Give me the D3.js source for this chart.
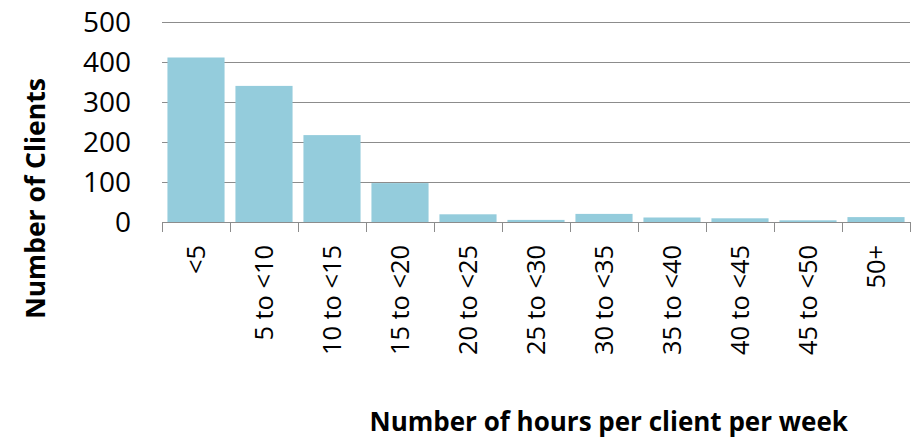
<!DOCTYPE html>
<html>
<head>
<meta charset="utf-8">
<script src="https://cdn.jsdelivr.net/npm/d3@7"></script>
<style>
  html, body { margin: 0; padding: 0; background: #fff; }
  svg { display: block; }
</style>
</head>
<body>
<svg id="chart" width="919" height="440"></svg>
<script>
// Hours-per-client histogram
const categories = ["<5", "5 to <10", "10 to <15", "15 to <20", "20 to <25", "25 to <30",
                    "30 to <35", "35 to <40", "40 to <45", "45 to <50", "50+"];
const clients = [412, 341, 218, 98, 20, 6, 21, 12, 10, 5, 13];
const yTicks = [0, 100, 200, 300, 400, 500];

const svg = d3.select("#chart");
const plotLeft = 162, plotRight = 910, plotTop = 22.3, plotBottom = 222.3;
const fontFamily = "Open Sans, sans-serif";

const x = d3.scaleBand()
  .domain(categories)
  .range([plotLeft, plotRight])
  .paddingInner(0.16)
  .paddingOuter(0.08);

const y = d3.scaleLinear().domain([0, 500]).range([plotBottom, plotTop]);

// horizontal gridlines
svg.append("g")
  .selectAll("line")
  .data(yTicks.filter(d => d > 0))
  .join("line")
  .attr("x1", plotLeft).attr("x2", plotRight)
  .attr("y1", d => Math.round(y(d)) + 0.5).attr("y2", d => Math.round(y(d)) + 0.5)
  .attr("stroke", "#8c8c8c").attr("stroke-width", 1);

// y tick labels
svg.append("g")
  .selectAll("text")
  .data(yTicks)
  .join("text")
  .attr("x", 131)
  .attr("y", d => y(d))
  .attr("dy", "0.36em")
  .attr("text-anchor", "end")
  .attr("font-family", fontFamily)
  .attr("font-size", 28)
  .attr("fill", "#000")
  .text(d => d);

// bars
svg.append("g")
  .selectAll("rect")
  .data(categories.map((c, i) => ({ c, v: clients[i] })))
  .join("rect")
  .attr("x", d => x(d.c))
  .attr("width", x.bandwidth())
  .attr("y", d => y(d.v))
  .attr("height", d => y(0) - y(d.v))
  .attr("fill", "#94ccdc");

// category axis: baseline and boundary ticks
const xAxisG = svg.append("g");
xAxisG.append("line")
  .attr("x1", plotLeft).attr("x2", plotRight)
  .attr("y1", Math.round(plotBottom) + 0.5).attr("y2", Math.round(plotBottom) + 0.5)
  .attr("stroke", "#8c8c8c");
const step = x.step();
xAxisG.selectAll("line.tick")
  .data(d3.range(categories.length + 1))
  .join("line")
  .attr("class", "tick")
  .attr("x1", i => Math.round(plotLeft + i * step) + 0.5)
  .attr("x2", i => Math.round(plotLeft + i * step) + 0.5)
  .attr("y1", Math.round(plotBottom))
  .attr("y2", Math.round(plotBottom) + 10)
  .attr("stroke", "#8c8c8c");

// rotated category labels
xAxisG.selectAll("text")
  .data(categories)
  .join("text")
  .attr("transform", d => `translate(${x(d) + x.bandwidth() / 2},245) rotate(-90)`)
  .attr("dy", "0.36em")
  .attr("text-anchor", "end")
  .attr("font-family", fontFamily)
  .attr("font-size", 25.4)
  .attr("fill", "#000")
  .text(d => d);

// axis titles
svg.append("text")
  .attr("transform", "translate(45,198.5) rotate(-90)")
  .attr("text-anchor", "middle")
  .attr("font-family", fontFamily)
  .attr("font-weight", "bold")
  .attr("font-size", 26.5)
  .attr("fill", "#000")
  .text("Number of Clients");

svg.append("text")
  .attr("x", 608.7)
  .attr("y", 431)
  .attr("text-anchor", "middle")
  .attr("font-family", fontFamily)
  .attr("font-weight", "bold")
  .attr("font-size", 26)
  .attr("fill", "#000")
  .text("Number of hours per client per week");
</script>
</body>
</html>
